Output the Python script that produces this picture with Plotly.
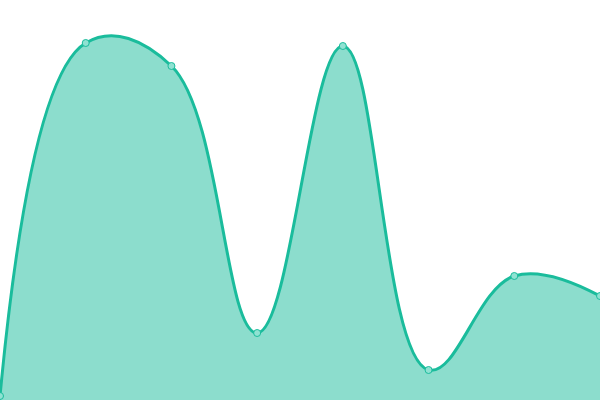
import plotly.graph_objects as go

# point positions along x (index) and values (pixel height above bottom)
x_vals = [0, 1, 2, 3, 4, 5, 6, 7]
y_vals = [4, 357, 334, 67, 354, 30, 124, 104]

fig = go.Figure()
fig.add_trace(go.Scatter(
    x=x_vals,
    y=y_vals,
    mode="lines+markers",
    line=dict(color="#1abc9c", width=3, shape="spline", smoothing=1.15),
    fill="tozeroy",
    fillcolor="rgba(26,188,156,0.5)",
    marker=dict(size=7, color="#8fe2d2", line=dict(color="#1abc9c", width=1)),
    cliponaxis=False,
    hoverinfo="x+y",
))

fig.update_layout(
    width=600,
    height=400,
    margin=dict(l=0, r=0, t=0, b=0),
    paper_bgcolor="white",
    plot_bgcolor="white",
    showlegend=False,
    xaxis=dict(visible=False, range=[0, 7], fixedrange=True),
    yaxis=dict(visible=False, range=[0, 400], fixedrange=True),
)

# drop the browser's default body margin so the chart sits at the corner
fig.write_html(
    "out.html",
    config={"displayModeBar": False},
    post_script="document.body.style.margin='0';",
)
